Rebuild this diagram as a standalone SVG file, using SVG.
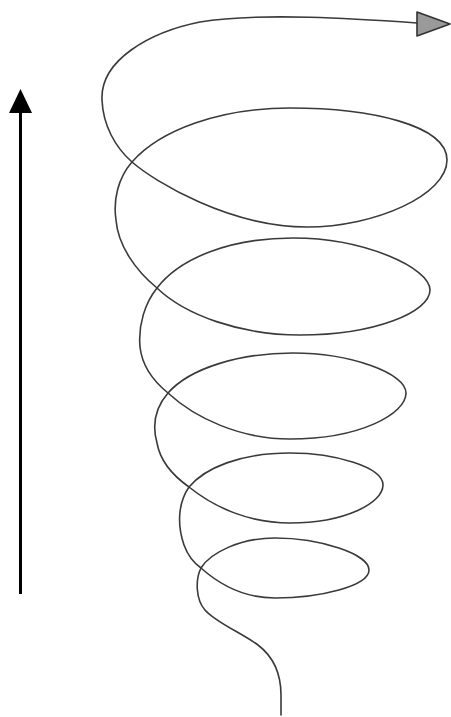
<svg xmlns="http://www.w3.org/2000/svg" width="451" height="717" viewBox="0 0 451 717">
<style>
.spiral{fill:none;stroke:#3a3a3a;stroke-width:1.6;stroke-linecap:round;stroke-linejoin:round}
.axis{stroke:#000;stroke-width:3}
</style>
<rect width="451" height="717" fill="#fff"/>
<g id="axis-arrow">
<line class="axis" x1="20.5" y1="110" x2="20.5" y2="594"/>
<polygon points="20.5,89 9,113 32,113" fill="#000"/>
</g>
<g id="spiral">
<path class="spiral" d="M417,23 C360,19 260,12 200,22 C150,32 100,60 102,100 C103,125 115,147 132,162 C155,182 230,227 307,227 C375,227 447,195 447,160 C447,125 370,108 290,108 C220,108 160,130 132,162 C118,178 113,200 116,220 C118,245 135,270 157,288 C185,315 240,335 300,335 C375,335 430,312 430,290 C430,268 365,238 293,238 C230,238 180,258 157,288 C145,303 138,325 140,347 C142,365 152,380 168,393 C195,418 240,439 290,439 C360,439 406,414 406,393 C406,373 350,353 293,353 C240,353 190,368 168,393 C155,408 152,425 157,443 C160,460 172,475 189,487 C215,508 250,523 290,523 C345,523 383,503 383,485 C383,467 335,453 290,453 C240,453 205,468 189,487 C178,503 177,525 184,545 C188,556 194,563 201,568 C220,585 245,598 275,598 C320,598 369,586 369,570 C369,554 320,538 275,538 C240,538 210,553 201,568 C195,580 196,600 205,610 C215,622 240,632 258,645 C275,658 281,675 281,695 L281,715"/>
<polygon points="417,12 450,24 417,36" fill="#9a9a9a" stroke="#333" stroke-width="1.6" stroke-linejoin="round"/>
</g>
</svg>
